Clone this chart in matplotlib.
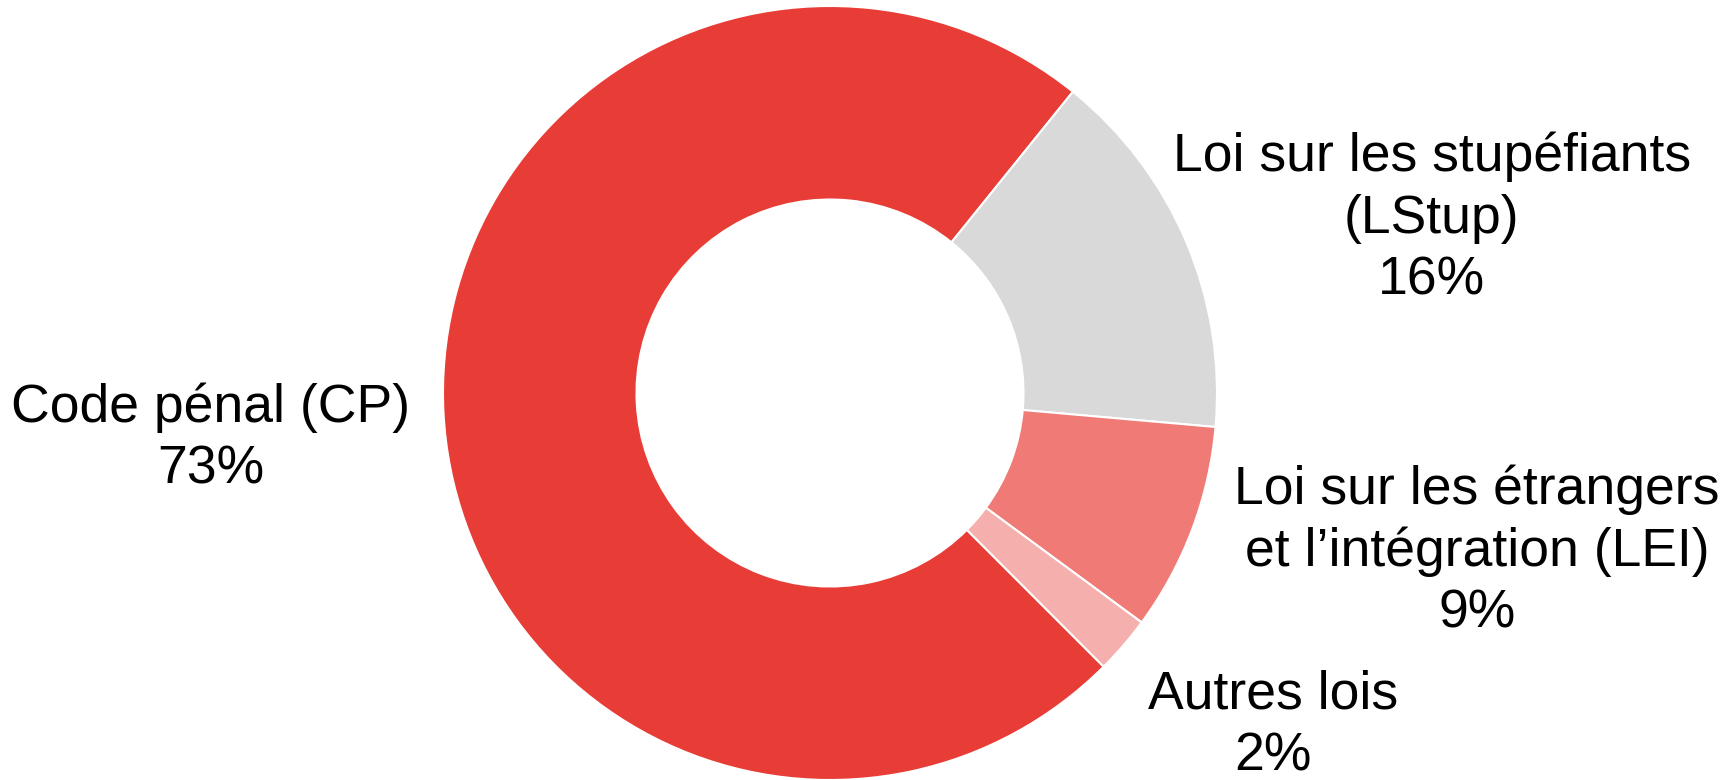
import matplotlib.pyplot as plt

# shares of convictions by law
categories = ["Code pénal (CP)", "Loi sur les stupéfiants\n(LStup)",
              "Loi sur les étrangers\net l’intégration (LEI)", "Autres lois"]
shares = [73.3, 15.6, 8.7, 2.4]
colors = ["#E83C36", "#D9D9D9", "#F07A76", "#F5AFAD"]

# label anchor positions in data units (pie radius = 1)
label_pos = [(-1.60, -0.117), (1.555, 0.45), (1.672, -0.41), (1.145, -0.86)]

W, H = 1726, 780
fig = plt.figure(figsize=(W / 100, H / 100), dpi=100)
plt.rcParams['font.family'] = ['Liberation Sans', 'DejaVu Sans']

cx, cy, r = 830, 393, 387
ax = fig.add_axes([(cx - r) / W, (H - cy - r) / H, 2 * r / W, 2 * r / H])

wedges, _ = ax.pie(shares, colors=colors, startangle=-45, counterclock=False,
                   radius=1.0,
                   wedgeprops=dict(width=0.5, edgecolor="white", linewidth=1.5))
ax.set_xlim(-1, 1)
ax.set_ylim(-1, 1)
ax.set_aspect("equal")
ax.axis("off")

for name, val, (x, y) in zip(categories, shares, label_pos):
    ax.text(x, y, f"{name}\n{round(val)}%", ha="center", va="center",
            fontsize=38.5, linespacing=1.3, color="black")

fig.savefig("out.png", dpi=100)
